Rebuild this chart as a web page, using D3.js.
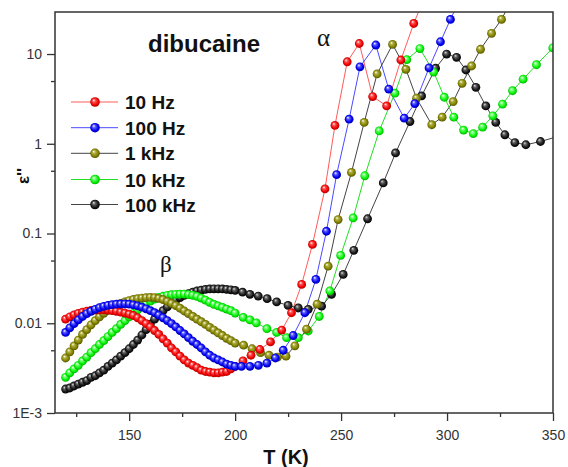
<!DOCTYPE html>
<html>
<head>
<meta charset="utf-8">
<script src="https://cdn.jsdelivr.net/npm/d3@7"></script>
<style>
  body { margin: 0; background: #fff; }
  svg { display: block; }
</style>
</head>
<body>
<div id="vis"></div>
<script>
// temperature grid of the dense low-T part (K)
const tLow = [120,122,124,126,128,130,132,134,136,138,140,142,144,146,148,150,152,154,156,158,
  160,162,164,166,168,170,172,174,176,178,180,182,184,186,188,190,192,194,196,198,200];

// eps'' on tLow, one list per frequency
const lowHz10 = [.0111,.0118,.0124,.0129,.0133,.0136,.0139,.0140,.0141,.0141,.0140,.0138,.0136,.0133,.0130,.0126,.0122,.0115,.0107,.0099,
  .0091,.0083,.0075,.0067,.0060,.0053,.0048,.0043,.0039,.0036,.0034,.0032,.0030,.0029,.00285,.0028,.0028,.00285,.0029,.0031,.0033];
const lowHz100 = [.0079,.0089,.0099,.0109,.0119,.0128,.0136,.0143,.0149,.0154,.0158,.0161,.0163,.0164,.0164,.0163,.0160,.0156,.0151,.0145,
  .0138,.0131,.0123,.0115,.0107,.0099,.0091,.0083,.0076,.0069,.0063,.0058,.0053,.0048,.0044,.0041,.0039,.0037,.0035,.0034,.0033];
const lowKHz1 = [.0041,.0048,.0056,.0065,.0075,.0085,.0096,.0107,.0118,.0129,.0139,.0149,.0158,.0166,.0173,.0179,.0184,.0188,.0191,.0193,
  .0194,.0193,.0189,.0183,.0175,.0166,.0157,.0147,.0137,.0128,.0119,.0111,.0104,.0097,.0090,.0084,.0078,.0073,.0068,.0064,.0060];
const lowKHz10 = [.0025,.0028,.0031,.0034,.0038,.0042,.0047,.0052,.0058,.0064,.0071,.0079,.0087,.0097,.0107,.0118,.0129,.0141,.0153,.0165,
  .0176,.0186,.0194,.0200,.0205,.0208,.0210,.0211,.0211,.0209,.0205,.0199,.0191,.0181,.0171,.0162,.0156,.0150,.0144,.0138,.0130];
const lowKHz100 = [.00185,.0019,.0020,.0021,.0022,.0023,.0025,.0026,.0028,.0030,.0033,.0036,.0039,.0043,.0047,.0052,.0058,.0065,.0074,.0085,
  .0098,.0111,.0124,.0138,.0152,.0166,.0180,.0193,.0204,.0214,.0222,.0229,.0234,.0238,.0241,.0242,.0242,.0241,.0239,.0236,.0232];

// sparser high-T part, [T, eps'']
const highHz10 = [[203.7,.0038],[207.5,.0044],[211.7,.0051],[216.7,.0062],[222,.0084],[226.6,.0131],[231.4,.0271],[236.5,.0755],
  [242.4,.314],[247.1,1.6],[252.9,8.2],[258.6,13.1],[264.9,3.36],[271.5,2.64],[278.2,8.58],[284.3,21.9],[290.5,50]];
const highHz100 = [[203,.0033],[207,.0033],[211,.0034],[215,.0036],[219,.0041],[222.7,.0050],[227.4,.0073],[232.9,.0131],
  [238.1,.0308],[243.1,.106],[247.9,.453],[253.8,1.88],[258.9,7.2],[266.4,12.6],[272.5,4.06],[279.8,1.93],[284.8,2.8],
  [291.5,7.0],[296.9,13.7],[301.6,24.3],[307,45]];
const highKHz1 = [[204,.0057],[208,.0052],[212,.0047],[216,.0044],[220,.0042],[224,.0043],[228.2,.0056],[233.7,.0086],
  [238.7,.0163],[243.9,.0433],[248.6,.143],[254.9,.48],[260.9,1.73],[267,6.0],[274.3,12.8],[280.6,6.76],[285.6,3.22],
  [292.8,1.63],[297.7,1.98],[302.9,2.95],[307.1,4.72],[311.6,7.36],[315.8,11.3],[321,17],[325.7,24.3],[330.5,40]];
const highKHz10 = [[203.8,.0116],[207,.0109],[210,.0101],[215,.0087],[219.6,.0079],[224.3,.0069],[229.8,.0069],[234.5,.0082],
  [239.7,.0119],[244.7,.0229],[249.8,.057],[255.7,.149],[261.2,.44],[268,1.39],[275.4,3.66],[281,8.65],[287.2,11.5],
  [293.7,6.3],[298.7,3.3],[303.2,1.98],[307.8,1.42],[312.4,1.30],[316.8,1.53],[321.6,2.05],[326.2,2.76],[330.9,3.9],
  [335.9,5.25],[342.2,7.6],[349.9,11.7]];
const highKHz100 = [[203.5,.0222],[207,.021],[210.9,.0201],[215.1,.0188],[219.6,.0173],[225,.0158],[229.8,.0148],[234.5,.0143],
  [240.8,.0155],[245.5,.021],[251,.035],[256,.065],[262.5,.146],[269.9,.366],[275.7,.79],[282.5,1.77],[288,3.41],[294.6,6.94],
  [299.8,10],[304.5,9.18],[308.9,6.64],[313.6,4.26],[318.3,2.64],[323,1.73],[327.3,1.26],[332,1.03],[337.2,.975],[344.1,1.06],[352,1.2]];

const seriesNames = ['10 Hz', '100 Hz', '1 kHz', '10 kHz', '100 kHz'];
const lowValues = [lowHz10, lowHz100, lowKHz1, lowKHz10, lowKHz100];
const highValues = [highHz10, highHz100, highKHz1, highKHz10, highKHz100];

const xTicks = [150, 200, 250, 300, 350];
const xMinor = [125, 175, 225, 275, 325];
const yTicks = [1e-3, 0.01, 0.1, 1, 10];
const yTickLabels = ['1E-3', '0.01', '0.1', '1', '10'];
const yMinor = [0.005, 0.05, 0.5, 5];

// styles: ball colours and connecting line colours
const ball = [
  ['#ffffff', '#ff5050', '#f00000', '#a00000'],
  ['#ffffff', '#5a5aff', '#0000f0', '#0000a0'],
  ['#ffffff', '#b0b040', '#808000', '#4a4a00'],
  ['#ffffff', '#70ff70', '#00f000', '#00a000'],
  ['#e0e0e0', '#606060', '#151515', '#000000']
];
const lineColor = ['#ff5a5a', '#4a4aff', '#444', '#20e020', '#444'];

const W = 568, H = 467;
const m = { left: 55, right: 553, top: 12, bottom: 413 };
const font = '"Liberation Sans", Arial, sans-serif';

const svg = d3.select('#vis').append('svg').attr('width', W).attr('height', H);

const x = d3.scaleLinear().domain([115, 350]).range([m.left, m.right]);
const y = d3.scaleLog().domain([1e-3, 29.4]).range([m.bottom, m.top]);

const defs = svg.append('defs');
ball.forEach((c, i) => {
  const g = defs.append('radialGradient').attr('id', 'ball' + i)
    .attr('cx', '50%').attr('cy', '50%').attr('r', '55%').attr('fx', '35%').attr('fy', '30%');
  [0, 0.3, 0.7, 1].forEach((o, k) => g.append('stop').attr('offset', o).attr('stop-color', c[k]));
});
defs.append('clipPath').attr('id', 'plotclip').append('rect')
  .attr('x', m.left).attr('y', m.top).attr('width', m.right - m.left).attr('height', m.bottom - m.top);

// series points
const series = seriesNames.map((name, i) =>
  tLow.map((t, k) => [t, lowValues[i][k]]).concat(highValues[i]));

const plot = svg.append('g').attr('clip-path', 'url(#plotclip)');
const line = d3.line().x(d => x(d[0])).y(d => y(d[1]));

series.forEach((pts, i) => {
  plot.append('path').attr('d', line(pts)).attr('fill', 'none')
    .attr('stroke', lineColor[i]).attr('stroke-width', 1);
});

// draw order of the balls (back to front)
[4, 3, 2, 0, 1].forEach(i => {
  plot.append('g').selectAll('circle').data(series[i]).join('circle')
    .attr('cx', d => x(d[0])).attr('cy', d => y(d[1])).attr('r', 4.4)
    .attr('fill', `url(#ball${i})`);
});

// axes
const axisStyle = g => {
  g.selectAll('path').remove();
  g.selectAll('line').attr('stroke', '#333').attr('stroke-width', 1.3);
  g.selectAll('text').style('font-family', font).style('font-size', '14px').attr('fill', '#333');
};

svg.append('g').attr('transform', `translate(0,${m.bottom})`)
  .call(d3.axisBottom(x).tickValues(xTicks).tickSize(8).tickPadding(9).tickFormat(d3.format('d')))
  .call(axisStyle);
svg.append('g').attr('transform', `translate(0,${m.bottom})`)
  .call(d3.axisBottom(x).tickValues(xMinor).tickSize(4).tickFormat(''))
  .call(axisStyle);
svg.append('g').attr('transform', `translate(${m.left},0)`)
  .call(d3.axisLeft(y).tickValues(yTicks).tickSize(8).tickPadding(5).tickFormat((d, i) => yTickLabels[i]))
  .call(axisStyle);
svg.append('g').attr('transform', `translate(${m.left},0)`)
  .call(d3.axisLeft(y).tickValues(yMinor).tickSize(4).tickFormat(''))
  .call(axisStyle);

svg.append('rect').attr('x', m.left).attr('y', m.top)
  .attr('width', m.right - m.left).attr('height', m.bottom - m.top)
  .attr('fill', 'none').attr('stroke', '#333').attr('stroke-width', 1.5);

// titles
svg.append('text').attr('x', 148).attr('y', 52).text('dibucaine')
  .style('font-family', font).style('font-size', '24px').style('font-weight', 'bold').attr('fill', '#111');
svg.append('text').attr('x', 286).attr('y', 464).attr('text-anchor', 'middle').text('T (K)')
  .style('font-family', font).style('font-size', '20px').style('font-weight', 'bold').attr('fill', '#111');
svg.append('text').attr('transform', 'translate(29,176) rotate(-90)').attr('text-anchor', 'middle').text("ε''")
  .style('font-family', font).style('font-size', '17px').style('font-weight', 'bold').attr('fill', '#111');
svg.append('text').attr('x', 317).attr('y', 46).text('α')
  .style('font-family', '"Liberation Serif", serif').style('font-size', '25px').attr('fill', '#111');
svg.append('text').attr('x', 160).attr('y', 272).text('β')
  .style('font-family', '"Liberation Serif", serif').style('font-size', '23px').attr('fill', '#111');

// legend
const legRows = [102, 127.7, 153.3, 179.5, 204.5];
seriesNames.forEach((name, i) => {
  const g = svg.append('g').attr('transform', `translate(0,${legRows[i]})`);
  g.append('line').attr('x1', 71).attr('x2', 118).attr('stroke', lineColor[i]).attr('stroke-width', 1);
  g.append('circle').attr('cx', 95).attr('r', 4.8).attr('fill', `url(#ball${i})`);
  g.append('text').attr('x', 125).attr('y', 7).text(name)
    .style('font-family', font).style('font-size', '19px').style('font-weight', 'bold').attr('fill', '#111');
});
</script>
</body>
</html>
